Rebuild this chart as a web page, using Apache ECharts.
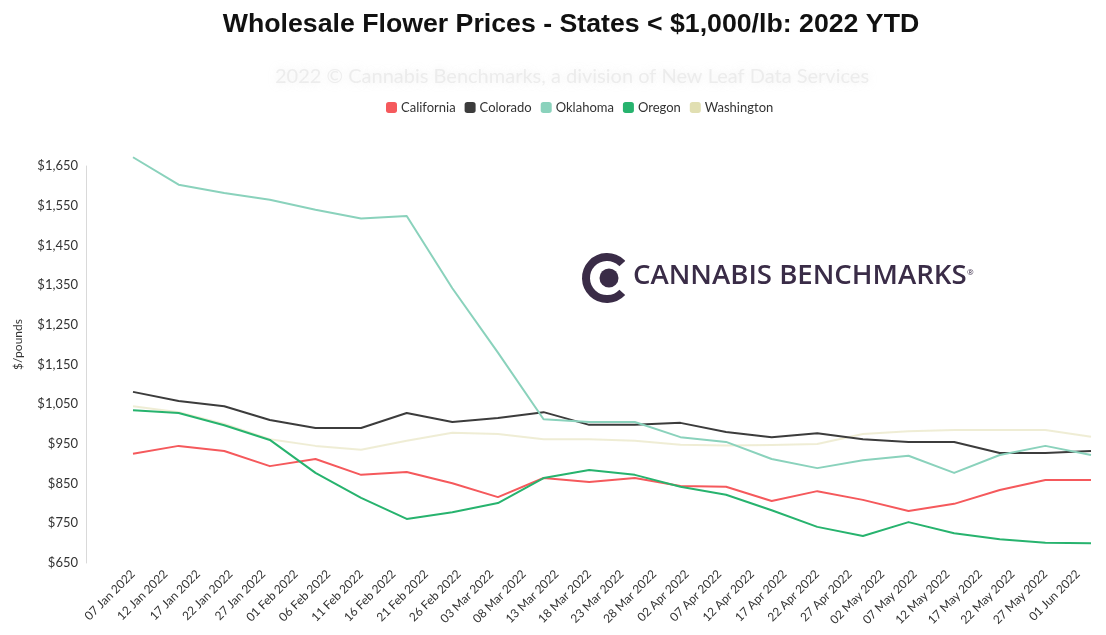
<!DOCTYPE html>
<html>
<head>
<meta charset="utf-8">
<title>Wholesale Flower Prices - States &lt; $1,000/lb: 2022 YTD</title>
<script src="https://cdn.jsdelivr.net/npm/echarts@6/dist/echarts.min.js"></script>
<style>
  html, body { margin: 0; padding: 0; background: #ffffff; }
  #chart { width: 1106px; height: 635px; }
</style>
</head>
<body>
<div id="chart"></div>
<script>
// Weekly assessment dates (2022)
const dates = [
  '2022-01-07', '2022-01-14', '2022-01-21', '2022-01-28', '2022-02-04', '2022-02-11',
  '2022-02-18', '2022-02-25', '2022-03-04', '2022-03-11', '2022-03-18', '2022-03-25',
  '2022-04-01', '2022-04-08', '2022-04-15', '2022-04-22', '2022-04-29', '2022-05-06',
  '2022-05-13', '2022-05-20', '2022-05-27', '2022-06-03'
];

// Wholesale flower price, $/pound
const california = [925, 945, 932, 894, 912, 872, 879, 851, 816, 864, 854, 864, 844, 842, 806, 831, 809, 781, 799, 834, 859, 859];
const colorado   = [1081, 1058, 1045, 1010, 990, 990, 1028, 1005, 1015, 1030, 998, 998, 1003, 980, 967, 977, 962, 955, 955, 927, 927, 932];
const oklahoma   = [1672, 1603, 1582, 1565, 1540, 1518, 1524, 1342, 1180, 1012, 1005, 1005, 967, 955, 912, 889, 909, 920, 877, 922, 945, 922];
const oregon     = [1035, 1028, 997, 960, 877, 814, 761, 778, 801, 864, 884, 872, 842, 822, 783, 741, 718, 753, 725, 710, 701, 700];
const washington = [1045, 1030, 1000, 962, 945, 935, 958, 978, 975, 962, 962, 958, 948, 946, 947, 950, 975, 982, 985, 985, 985, 968];

const seriesNames = ['California', 'Colorado', 'Oklahoma', 'Oregon', 'Washington'];
const seriesValues = [california, colorado, oklahoma, oregon, washington];
const seriesColors = ['#f5595c', '#3c3c3c', '#8ad2bc', '#27b36e', '#e1dfb2'];

// Y axis ticks
const yMin = 650, yMax = 1650, yStep = 100;
// X axis: days counted from the first date, labelled every 5 days
const xStepDays = 5;

const DAY = 86400000;
const origin = Date.parse(dates[0] + 'T00:00:00Z');
const toDay = s => Math.round((Date.parse(s + 'T00:00:00Z') - origin) / DAY);
const months = ['Jan', 'Feb', 'Mar', 'Apr', 'May', 'Jun', 'Jul', 'Aug', 'Sep', 'Oct', 'Nov', 'Dec'];
function dayLabel(d) {
  const t = new Date(origin + d * DAY);
  const dd = String(t.getUTCDate()).padStart(2, '0');
  return dd + ' ' + months[t.getUTCMonth()] + ' ' + t.getUTCFullYear();
}
function money(v) {
  return '$' + v.toLocaleString('en-US');
}
const lastDay = toDay(dates[dates.length - 1]);

const chart = echarts.init(document.getElementById('chart'), null, { renderer: 'canvas' });

const font = 'Lato, "Open Sans", sans-serif';

chart.setOption({
  backgroundColor: '#ffffff',
  animation: false,
  title: [
    {
      text: 'Wholesale Flower Prices - States < $1,000/lb: 2022 YTD',
      left: 566,
      textAlign: 'center',
      top: 6,
      textStyle: {
        fontFamily: '"Liberation Sans", Arial, sans-serif',
        fontWeight: 'bold',
        fontSize: 26.7,
        color: '#111111'
      }
    },
    {
      text: '2022 © Cannabis Benchmarks, a division of New Leaf Data Services',
      left: 567,
      textAlign: 'center',
      top: 62,
      textStyle: {
        fontFamily: font,
        fontWeight: 'normal',
        fontSize: 20,
        color: 'rgba(215,215,215,0.4)',
        textShadowColor: 'rgba(205,205,205,0.9)',
        textShadowBlur: 8
      }
    }
  ],
  legend: {
    top: 96,
    left: 381,
    icon: 'roundRect',
    itemWidth: 11,
    itemHeight: 11,
    itemGap: 9,
    data: seriesNames,
    textStyle: { fontFamily: font, fontSize: 13, color: '#333333', padding: [0, 0, 0, -1] }
  },
  grid: { left: 133, right: 15, top: 166, bottom: 72 },
  xAxis: {
    type: 'value',
    min: 0,
    max: lastDay,
    interval: xStepDays,
    axisLine: { show: false },
    axisTick: { show: false },
    splitLine: { show: false },
    axisLabel: {
      rotate: 45,
      margin: 9,
      showMaxLabel: false,
      fontFamily: font,
      fontSize: 12,
      color: '#333333',
      formatter: v => (v % xStepDays === 0 ? dayLabel(v) : '')
    }
  },
  yAxis: {
    type: 'value',
    min: yMin,
    max: yMax,
    interval: yStep,
    offset: 47,
    name: '$/pounds',
    nameLocation: 'middle',
    nameGap: 62,
    nameTextStyle: { fontFamily: font, fontSize: 12, color: '#333333', padding: [0, 0, 0, 40] },
    axisLine: { show: true, onZero: false, lineStyle: { color: '#d9d9d9', width: 1 } },
    axisTick: { show: false },
    splitLine: { show: false },
    axisLabel: {
      margin: 8,
      fontFamily: font,
      fontSize: 13,
      color: '#333333',
      formatter: v => money(v)
    }
  },
  series: seriesNames.map((name, i) => ({
    name,
    type: 'line',
    clip: false,
    showSymbol: false,
    symbol: 'none',
    color: seriesColors[i],
    lineStyle: {
      width: 2,
      color: seriesColors[i],
      join: 'round',
      opacity: name === 'Washington' ? 0.55 : 1
    },
    z: name === 'Washington' ? 1 : 2,
    data: dates.map((d, k) => [toDay(d), seriesValues[i][k]])
  })),
  graphic: [
    {
      type: 'group',
      left: 582,
      top: 253,
      children: [
        {
          type: 'arc',
          shape: { cx: 25, cy: 26, r: 21, startAngle: Math.PI * 0.24, endAngle: Math.PI * 1.76 },
          style: { stroke: '#3a2c47', lineWidth: 8, fill: null, lineCap: 'butt' }
        },
        {
          type: 'circle',
          shape: { cx: 27, cy: 26, r: 9.5 },
          style: { fill: '#3a2c47' }
        },
        {
          type: 'text',
          x: 51,
          y: 10,
          style: {
            text: 'CANNABIS BENCHMARKS',
            fontFamily: '"Open Sans", sans-serif',
            fontWeight: 600,
            fontSize: 27.6,
            fill: '#3a2c47'
          }
        },
        {
          type: 'text',
          x: 385,
          y: 17,
          style: {
            text: '®',
            fontFamily: '"Open Sans", sans-serif',
            fontSize: 8,
            fill: '#3a2c47'
          }
        }
      ]
    }
  ]
});
</script>
</body>
</html>
